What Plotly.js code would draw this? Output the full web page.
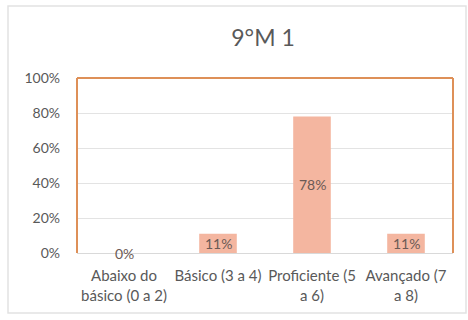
<!DOCTYPE html>
<html>
<head>
<meta charset="utf-8">
<script src="https://cdn.plot.ly/plotly-3.0.1.min.js"></script>
<style>
  html, body { margin: 0; padding: 0; background: #ffffff; }
  #chart { width: 468px; height: 320px; }
</style>
</head>
<body>
<div id="chart"></div>
<script>
// Proficiency levels for class 9°M 1
const categories = [
  "Abaixo do<br>básico (0 a 2)",
  "Básico (3 a 4)",
  "Proficiente (5<br>a 6)",
  "Avançado (7<br>a 8)"
];
const shares = [0, 0.11, 0.78, 0.11];
const yTicks = [0, 0.2, 0.4, 0.6, 0.8, 1.0];
const yTickLabels = ["0%", "20%", "40%", "60%", "80%", "100%"];

const family = "Lato, 'Open Sans', sans-serif";
const grey = "#595959";

const bars = {
  type: "bar",
  x: categories,
  y: shares,
  marker: { color: "#F4B6A0" },
  width: 0.4,
  hoverinfo: "skip"
};

// value labels centred on each bar
const valueLabels = categories.map((c, i) => ({
  x: c,
  y: shares[i] / 2,
  xref: "x",
  yref: "y",
  text: Math.round(shares[i] * 100) + "%",
  showarrow: false,
  font: { family: family, size: 14, color: "#6b5a55" }
}));

const layout = {
  width: 468,
  height: 320,
  margin: { l: 77, r: 15, t: 78, b: 67 },
  paper_bgcolor: "#ffffff",
  plot_bgcolor: "#ffffff",
  showlegend: false,
  title: {
    text: "9°M 1",
    font: { family: family, size: 23, color: grey },
    x: 0.562, xanchor: "center",
    y: 0.88, yanchor: "middle"
  },
  xaxis: {
    type: "category",
    tickfont: { family: family, size: 15, color: grey },
    showgrid: false,
    showline: true,
    linecolor: "#D9D9D9",
    linewidth: 1,
    ticks: "",
    ticklabelstandoff: 9,
    fixedrange: true
  },
  yaxis: {
    range: [0, 1],
    tickvals: yTicks,
    ticktext: yTickLabels,
    tickfont: { family: family, size: 14, color: grey },
    showgrid: true,
    gridcolor: "#E3E3E3",
    zeroline: false,
    showline: false,
    ticks: "",
    ticklabelstandoff: 16,
    automargin: false,
    fixedrange: true
  },
  annotations: valueLabels,
  shapes: [
    // orange frame around the plot area (left, top, right)
    { type: "line", xref: "paper", yref: "paper", x0: 0, x1: 0, y0: 0, y1: 1,
      line: { color: "#DE9058", width: 2 } },
    { type: "line", xref: "paper", yref: "paper", x0: 0, x1: 1, y0: 1, y1: 1,
      line: { color: "#DE9058", width: 2 } },
    { type: "line", xref: "paper", yref: "paper", x0: 1, x1: 1, y0: 0, y1: 1,
      line: { color: "#DE9058", width: 2 } },
    // light outer chart border
    { type: "rect", xref: "paper", yref: "paper",
      x0: -69 / 376, x1: 1 + 13 / 376, y0: -60 / 175, y1: 1 + 72 / 175,
      line: { color: "#E2E2E2", width: 1.5 }, fillcolor: "rgba(0,0,0,0)", layer: "below" }
  ]
};

Plotly.newPlot("chart", [bars], layout, { displayModeBar: false, staticPlot: true });
</script>
</body>
</html>
